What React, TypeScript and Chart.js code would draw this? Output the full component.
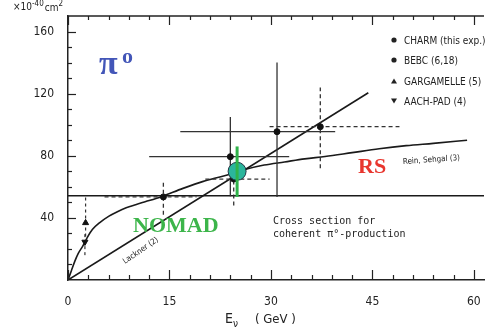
import React, { useEffect, useRef } from "react";
import { Chart, registerables } from "chart.js";

Chart.register(...registerables);

// ---------- axis ticks ----------
const xTickValues = [0, 15, 30, 45, 60];
const yTickValues = [40, 80, 120, 160];
const xMinorStep = 3;
const yMinorStep = 10;
const xMax = 61.5;
const yMax = 170;

// ---------- theory curves ----------
const reinSehgalE = [0, 0.5, 1, 1.5, 2.2, 2.8, 3.6, 4.7, 6, 7.3, 8.6, 10, 11.5, 13, 14, 17, 20, 23, 26, 29, 32, 35, 38, 42, 46, 50, 54, 59];
const reinSehgalSigma = [0, 6, 12, 17, 22, 27, 32.5, 37, 41, 44, 46.5, 48.5, 50.5, 52.5, 54, 59, 63.5, 67, 71, 74, 76, 78, 79.5, 82, 84.5, 86.5, 88, 90];
const lacknerE = [0, 44.4];
const lacknerSigma = [0, 120.6];
const refLineE = [0, 61.5];
const refLineSigma = [54.2, 54.2];

// ---------- measurements ----------
const charmE = [24.0, 30.9];
const charmSigma = [79.4, 95.5];
const charmELo = [12.0, 16.6];
const charmEHi = [32.7, 39.5];
const charmSigmaLo = [54, 53.5];
const charmSigmaHi = [105, 140];

const bebcE = [14.1, 24.5, 37.3];
const bebcSigma = [53.5, 65, 98.7];
const bebcELo = [5.4, 20.3, 29.8];
const bebcEHi = [19.0, 29.8, 49.0];
const bebcSigmaLo = [42, 48, 72];
const bebcSigmaHi = [63, 70, 124];

const gargamelleE = [2.6];
const gargamelleSigma = [36.8];
const gargamelleSigmaLo = [28];
const gargamelleSigmaHi = [54];

const aachenE = [2.5];
const aachenSigma = [24.5];
const aachenSigmaLo = [16];
const aachenSigmaHi = [30];

const nomadE = [25];
const nomadSigma = [70];
const nomadSigmaLo = [53.5];
const nomadSigmaHi = [86];

// ---------- texts ----------
const legendLabels = ["CHARM (this exp.)", "BEBC (6,18)", "GARGAMELLE (5)", "AACH-PAD (4)"];
const legendMarkers = ["circle", "circle", "up", "down"];
const crossSectionLines = ["Cross section for", "coherent π°-production"];

const INK = "#222";
const NARROW = '"Liberation Sans Narrow", "DejaVu Sans Condensed", sans-serif';
const COND = '"DejaVu Sans Condensed", "Liberation Sans Narrow", sans-serif';
const SERIF = '"Liberation Serif", "DejaVu Serif", serif';

const pts = (xs: number[], ys: number[]) => xs.map((x, i) => ({ x, y: ys[i] }));

function errorBarDatasets(
  xs: number[], ys: number[], xLo: number[] | null, xHi: number[] | null,
  yLo: number[], yHi: number[], dash: number[], color: string, width: number, order: number
) {
  const out: any[] = [];
  xs.forEach((x, i) => {
    if (xLo && xHi) {
      out.push({
        type: "line", data: [{ x: xLo[i], y: ys[i] }, { x: xHi[i], y: ys[i] }],
        borderColor: color, borderWidth: width, borderDash: dash, pointRadius: 0, order,
      });
    }
    out.push({
      type: "line", data: [{ x, y: yLo[i] }, { x, y: yHi[i] }],
      borderColor: color, borderWidth: width, borderDash: dash, pointRadius: 0, order,
    });
  });
  return out;
}

const decorPlugin = {
  id: "decor",
  afterDraw(chart: any) {
    const { ctx, chartArea: a, scales } = chart;
    const x = scales.x;
    const y = scales.y;
    ctx.save();
    ctx.strokeStyle = INK;
    ctx.fillStyle = INK;

    // top frame
    ctx.lineWidth = 1.5;
    ctx.beginPath();
    ctx.moveTo(a.left, a.top);
    ctx.lineTo(a.right, a.top);
    ctx.stroke();

    // x ticks (bottom and top, inward)
    ctx.lineWidth = 1.2;
    for (let v = 0; v <= xMax; v += xMinorStep) {
      const px = Math.round(x.getPixelForValue(v)) + 0.5;
      const major = xTickValues.includes(v);
      const lb = major ? 10 : 5;
      const lt = major ? 9 : 4;
      ctx.beginPath();
      ctx.moveTo(px, a.bottom);
      ctx.lineTo(px, a.bottom - lb);
      ctx.moveTo(px, a.top);
      ctx.lineTo(px, a.top + lt);
      ctx.stroke();
    }
    // y ticks (inward)
    for (let v = yMinorStep; v < yMax; v += yMinorStep) {
      const py = Math.round(y.getPixelForValue(v)) + 0.5;
      const major = yTickValues.includes(v);
      const l = major ? 8 : 4;
      ctx.beginPath();
      ctx.moveTo(a.left, py);
      ctx.lineTo(a.left + l, py);
      ctx.stroke();
    }

    // unit label
    ctx.textBaseline = "alphabetic";
    ctx.textAlign = "left";
    let cx = 13;
    ctx.font = `10px ${COND}`;
    ctx.fillText("×10", cx, 10);
    cx += ctx.measureText("×10").width;
    ctx.font = `8px ${COND}`;
    ctx.fillText("-40", cx, 6);
    cx += ctx.measureText("-40").width + 1;
    ctx.font = `10px ${COND}`;
    ctx.fillText("cm", cx, 11);
    cx += ctx.measureText("cm").width;
    ctx.font = `8px ${COND}`;
    ctx.fillText("2", cx, 6);

    // x title
    ctx.font = `14px ${COND}`;
    ctx.fillText("E", 225, 323);
    ctx.font = `10px ${COND}`;
    ctx.fillText("ν", 233, 327);
    ctx.font = `13px ${COND}`;
    ctx.fillText("( GeV )", 255, 323);

    // legend
    ctx.font = `10px ${COND}`;
    const legendY = [40, 60, 81, 101];
    legendLabels.forEach((t, i) => {
      const my = legendY[i];
      const mx = 394;
      ctx.beginPath();
      const m = legendMarkers[i];
      if (m === "circle") {
        ctx.arc(mx, my, 2.6, 0, Math.PI * 2);
      } else if (m === "up") {
        ctx.moveTo(mx - 3, my + 2.5);
        ctx.lineTo(mx + 3, my + 2.5);
        ctx.lineTo(mx, my - 2.5);
      } else {
        ctx.moveTo(mx - 3, my - 2.5);
        ctx.lineTo(mx + 3, my - 2.5);
        ctx.lineTo(mx, my + 2.5);
      }
      ctx.closePath();
      ctx.fill();
      ctx.fillText(t, 404, my + 3.5);
    });

    // cross-section note
    ctx.font = `10px "DejaVu Sans Mono", monospace`;
    ctx.fillText(crossSectionLines[0], 273, 224);
    ctx.fillText(crossSectionLines[1], 273, 237);

    // curve labels
    ctx.font = `8px ${COND}`;
    ctx.save();
    ctx.translate(403, 164);
    ctx.rotate(-0.07);
    ctx.fillText("Rein, Sehgal (3)", 0, 0);
    ctx.restore();
    ctx.save();
    ctx.translate(125, 264);
    ctx.rotate(-0.6);
    ctx.fillText("Lackner (2)", 0, 0);
    ctx.restore();

    // coloured annotations
    ctx.fillStyle = "#4356b8";
    ctx.font = `bold 34px ${SERIF}`;
    ctx.fillText("π", 99, 74);
    ctx.font = `bold 22px ${SERIF}`;
    ctx.fillText("o", 122, 63);

    ctx.fillStyle = "#3cb54a";
    ctx.font = `bold 22px ${SERIF}`;
    ctx.fillText("NOMAD", 133, 232);

    ctx.fillStyle = "#e8362e";
    ctx.fillText("RS", 358, 173);

    ctx.restore();
  },
};

export default function App() {
  const ref = useRef<HTMLCanvasElement | null>(null);

  useEffect(() => {
    if (!ref.current) return;
    const datasets: any[] = [
      // NOMAD green bar on top
      {
        type: "line", data: [{ x: nomadE[0], y: nomadSigmaLo[0] }, { x: nomadE[0], y: nomadSigmaHi[0] }],
        borderColor: "#2fb34a", borderWidth: 3, pointRadius: 0, order: 0,
      },
      {
        type: "scatter", data: pts(nomadE, nomadSigma), pointRadius: 9,
        backgroundColor: "#2bb59c", borderColor: "#234", borderWidth: 1, order: 1,
      },
      {
        type: "scatter", data: pts(charmE, charmSigma), pointRadius: 3,
        backgroundColor: "#111", borderColor: "#111", order: 2,
      },
      {
        type: "scatter", data: pts(bebcE, bebcSigma), pointRadius: 3,
        backgroundColor: "#111", borderColor: "#111", order: 2,
      },
      {
        type: "scatter", data: pts(gargamelleE, gargamelleSigma), pointStyle: "triangle", pointRadius: 3.5,
        backgroundColor: "#111", borderColor: "#111", order: 2,
      },
      {
        type: "scatter", data: pts(aachenE, aachenSigma), pointStyle: "triangle", rotation: 180, pointRadius: 3.5,
        backgroundColor: "#111", borderColor: "#111", order: 2,
      },
      ...errorBarDatasets(charmE, charmSigma, charmELo, charmEHi, charmSigmaLo, charmSigmaHi, [], "#333", 1.3, 3),
      ...errorBarDatasets(bebcE, bebcSigma, bebcELo, bebcEHi, bebcSigmaLo, bebcSigmaHi, [4, 3], "#333", 1.3, 3),
      ...errorBarDatasets(gargamelleE, gargamelleSigma, null, null, gargamelleSigmaLo, gargamelleSigmaHi, [3, 3], "#333", 1.2, 3),
      ...errorBarDatasets(aachenE, aachenSigma, null, null, aachenSigmaLo, aachenSigmaHi, [3, 3], "#333", 1.2, 3),
      {
        type: "line", data: pts(reinSehgalE, reinSehgalSigma), borderColor: "#1a1a1a", borderWidth: 1.6,
        pointRadius: 0, cubicInterpolationMode: "monotone", order: 4,
      },
      {
        type: "line", data: pts(lacknerE, lacknerSigma), borderColor: "#1a1a1a", borderWidth: 1.6,
        pointRadius: 0, order: 4,
      },
      {
        type: "line", data: pts(refLineE, refLineSigma), borderColor: "#1a1a1a", borderWidth: 1.5,
        pointRadius: 0, order: 4,
      },
    ];

    const tickFont = { family: NARROW, size: 12 };

    const chart = new Chart(ref.current, {
      type: "line",
      data: { datasets },
      options: {
        responsive: false,
        animation: false,
        devicePixelRatio: 1,
        layout: { padding: { top: 16, right: 4, left: 0, bottom: 0 } },
        plugins: { legend: { display: false }, tooltip: { enabled: false } },
        scales: {
          x: {
            type: "linear", min: 0, max: xMax,
            afterBuildTicks: (s: any) => { s.ticks = xTickValues.map((v) => ({ value: v })); },
            afterFit: (s: any) => { s.height = 48; s.paddingLeft = 0; s.paddingRight = 0; },
            grid: { display: false },
            border: { display: true, color: INK, width: 1.5 },
            ticks: { padding: 7, color: INK, font: tickFont, maxRotation: 0, autoSkip: false },
          },
          y: {
            type: "linear", min: 0, max: yMax,
            afterBuildTicks: (s: any) => { s.ticks = yTickValues.map((v) => ({ value: v })); },
            afterFit: (s: any) => { s.width = 68; s.paddingTop = 0; s.paddingBottom = 0; },
            grid: { display: false },
            border: { display: true, color: INK, width: 1.5 },
            ticks: { padding: 6, color: INK, font: tickFont, autoSkip: false },
          },
        },
      },
      plugins: [decorPlugin],
    } as any);

    return () => chart.destroy();
  }, []);

  return (
    <canvas
      ref={ref}
      width={494}
      height={328}
      style={{ position: "absolute", left: 0, top: 0, width: 494, height: 328, display: "block", background: "#fff" }}
    />
  );
}
